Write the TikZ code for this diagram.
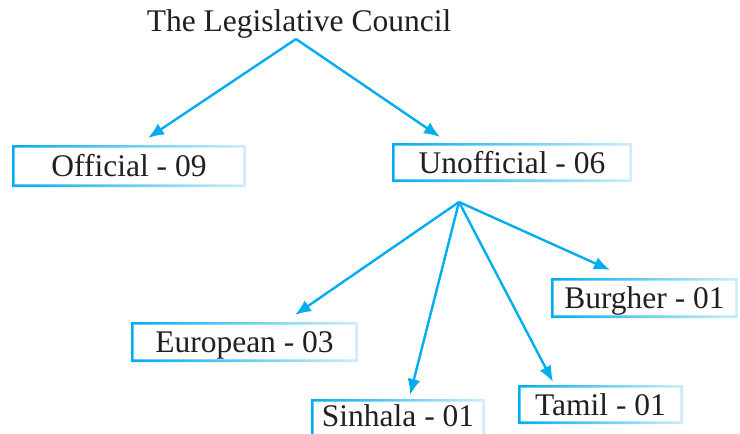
\documentclass[tikz,border=0pt]{standalone}
\usepackage{fontspec}
\setmainfont{Liberation Serif}
\usetikzlibrary{arrows.meta}
\definecolor{cy}{RGB}{0,174,239}
\definecolor{cyl}{RGB}{205,237,250}
\definecolor{ink}{RGB}{35,31,32}
\begin{document}
\begin{tikzpicture}[x=1pt,y=-1pt,
  txt/.style={font=\fontsize{31.5}{36}\selectfont, text=ink, inner sep=0pt, outer sep=0pt},
  box/.style={txt, text height=21pt, text depth=0pt, minimum height=#1},
  link/.style={draw=cy, line width=2.4pt, -{Latex[length=16pt,width=13pt]}},
  frame/.style={left color=cy, right color=cyl, even odd rule}]
\useasboundingbox (0,0) rectangle (740,434);
\node[txt, anchor=base] (title) at (299,31) {The Legislative Council};
\node[box=42pt, minimum width=234pt] (off) at (129,166) {Official - 09};
\node[box=39pt, minimum width=240pt] (unoff) at (512,162.5) {Unofficial - 06};
\node[box=40pt, minimum width=227pt] (eur) at (244.5,342) {European - 03};
\node[box=34pt, minimum width=174pt] (sin) at (398,416) {Sinhala - 01};
\node[box=39pt, minimum width=165pt] (tam) at (600.5,404.5) {Tamil - 01};
\node[box=40pt, minimum width=187pt] (bur) at (644.5,298) {Burgher - 01};
\foreach \n/\e in {off/0,unoff/0,eur/0,sin/8,tam/0,bur/0}{
  \path[frame] (\n.north east) rectangle ([yshift=-\e pt]\n.south west)
    ([shift={(2.6pt,-2.6pt)}]\n.north west) rectangle ([shift={(-2.6pt,2.6pt-\e pt)}]\n.south east);
}
\coordinate (a1) at (296,39);
\coordinate (a2) at (459,202);
\coordinate (toff) at (148,138);
\coordinate (tunoff) at (440,137);
\coordinate (teur) at (295,315);
\coordinate (tsin) at (410,395);
\coordinate (ttam) at (553,382);
\coordinate (tbur) at (610,270);
\draw[link] (a1) -- (toff);
\draw[link] (a1) -- (tunoff);
\draw[link] (a2) -- (teur);
\draw[link] (a2) -- (tsin);
\draw[link] (a2) -- (ttam);
\draw[link] (a2) -- (tbur);
\end{tikzpicture}
\end{document}
